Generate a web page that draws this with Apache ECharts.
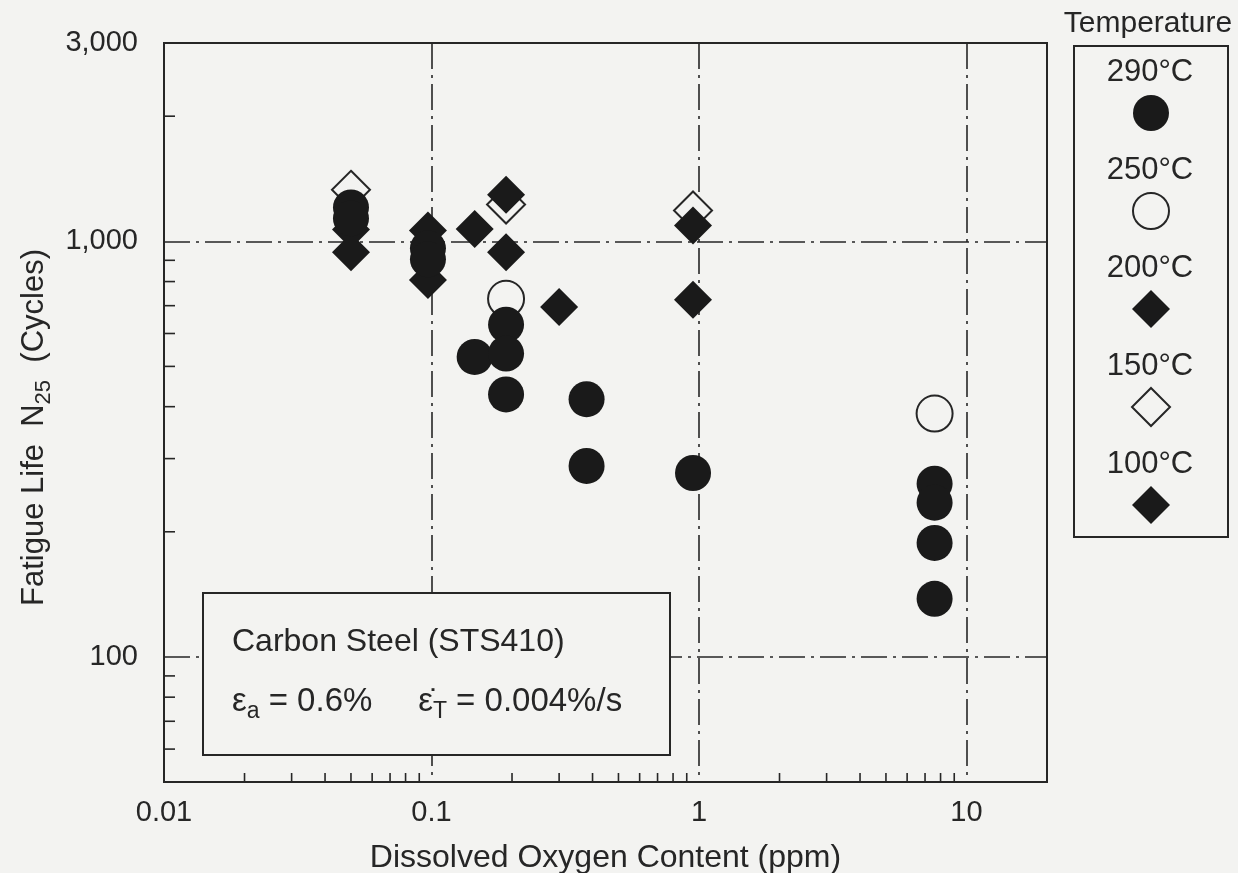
<!DOCTYPE html>
<html><head><meta charset="utf-8">
<script src="https://cdn.jsdelivr.net/npm/echarts@6/dist/echarts.min.js"></script>
<style>html,body{margin:0;padding:0;background:#f3f3f1}#c{width:1238px;height:873px}</style>
</head><body><div id="c"></div>
<script>
// ---- data (dissolved oxygen ppm, fatigue life N25 cycles) ----
const temps = ['290°C', '250°C', '200°C', '150°C', '100°C'];
const s290 = [[0.05,1206],[0.05,1135],[0.097,962],[0.097,905],[0.145,527],[0.19,630],[0.19,537],[0.19,428],[0.38,417],[0.38,288],[0.95,277],[7.6,261],[7.6,235],[7.6,188],[7.6,138]];
const s250 = [[0.19,727],[7.6,385]];
const s200 = [[0.05,941],[0.097,807],[0.19,941],[0.3,695],[0.95,723]];
const s150 = [[0.05,1330],[0.19,1226],[0.95,1186]];
const s100 = [[0.05,1068],[0.097,1062],[0.145,1070],[0.19,1295],[0.95,1092]];
const xLabels = {0.01:'0.01', 0.1:'0.1', 1:'1', 10:'10'};
const yLabels = {100:'100', 1000:'1,000', 3000:'3,000'};
const xMinor = [0.02,0.03,0.04,0.05,0.06,0.07,0.08,0.09,0.2,0.3,0.4,0.5,0.6,0.7,0.8,0.9,2,3,4,5,6,7,8,9];
const yMinor = [60,70,80,90,200,300,400,500,600,700,800,900,2000];
const xRange = [0.01, 20];
const yRange = [50, 3000];
const xTitle = 'Dissolved Oxygen Content (ppm)';
const noteLine1 = 'Carbon Steel (STS410)';
const legendTitle = 'Temperature';

const INK = '#262626';
const FILL = '#1a1a1a';
const BG = '#f3f3f1';
const FONT = '"Liberation Sans", Arial, Helvetica, sans-serif';

function near(v, table) {
  for (const k in table) { if (Math.abs(Math.log10(v) - Math.log10(+k)) < 1e-6) return table[k]; }
  return '';
}

const dashDot = [26, 6, 3, 6];

const chart = echarts.init(document.getElementById('c'), null, {renderer: 'canvas'});

function tickSeries(data, vertical) {
  return {
    type: 'custom', silent: true, clip: false, z: 3,
    data: data,
    renderItem: function (params, api) {
      const p = api.coord([api.value(0), api.value(1)]);
      const shape = vertical
        ? {x1: p[0], y1: p[1], x2: p[0], y2: p[1] - 9}
        : {x1: p[0], y1: p[1], x2: p[0] + 11, y2: p[1]};
      return {type: 'line', shape: shape, style: {stroke: INK, lineWidth: 1.6}};
    }
  };
}

const markerFilled = {color: FILL, opacity: 1};
const markerOpen = {color: BG, borderColor: INK, borderWidth: 2, opacity: 1};

// legend graphic built from temps
const legendSyms = [
  {k: 'circle', filled: true}, {k: 'circle', filled: false},
  {k: 'diamond', filled: true}, {k: 'diamond', filled: false}, {k: 'diamond', filled: true}
];
const legendEls = [
  {type: 'text', x: 1148, y: 24, style: {text: legendTitle, font: '30px ' + FONT, fill: INK, align: 'center', verticalAlign: 'middle'}},
  {type: 'rect', shape: {x: 1074, y: 46, width: 154, height: 491}, style: {fill: BG, stroke: INK, lineWidth: 2}, z: 10}
];
temps.forEach(function (t, i) {
  const ty = 72 + i * 98;
  const sy = 113 + i * 98;
  legendEls.push({type: 'text', x: 1150, y: ty, z: 11, style: {text: t, font: '31px ' + FONT, fill: INK, align: 'center', verticalAlign: 'middle'}});
  const s = legendSyms[i];
  const style = s.filled ? {fill: FILL} : {fill: BG, stroke: INK, lineWidth: 2};
  if (s.k === 'circle') {
    legendEls.push({type: 'circle', z: 11, shape: {cx: 1151, cy: sy, r: 18}, style: style});
  } else {
    legendEls.push({type: 'polygon', z: 11, shape: {points: [[1151, sy - 19], [1170, sy], [1151, sy + 19], [1132, sy]]}, style: style});
  }
});

const option = {
  backgroundColor: BG,
  animation: false,
  textStyle: {fontFamily: FONT, color: INK},
  grid: {left: 164, right: 191, top: 43, bottom: 91, outerBoundsMode: 'none', containLabel: false,
    show: true, borderColor: INK, borderWidth: 2, backgroundColor: 'transparent'},
  xAxis: {
    type: 'log', logBase: 10, min: xRange[0], max: xRange[1],
    name: xTitle, nameLocation: 'middle', nameGap: 60,
    nameTextStyle: {fontSize: 32, color: INK, fontFamily: FONT},
    axisLine: {show: false}, axisTick: {show: false},
    axisLabel: {fontSize: 29, color: INK, margin: 16, showMaxLabel: true, showMinLabel: true,
      formatter: function (v) { return near(v, xLabels); }},
    splitLine: {show: true, showMinLine: false, showMaxLine: false, lineStyle: {color: INK, width: 1.6, type: dashDot}}
  },
  yAxis: {
    type: 'log', logBase: 10, min: yRange[0], max: yRange[1],
    name: '{a|Fatigue Life  N}{s|25}{a|  (Cycles)}', nameLocation: 'middle', nameRotate: 90, nameGap: 106,
    nameTextStyle: {color: INK, fontFamily: FONT, padding: [0, 30, 0, 0],
      rich: {a: {fontSize: 31, lineHeight: 40, color: INK, fontFamily: FONT},
             s: {fontSize: 22, lineHeight: 22, verticalAlign: 'bottom', color: INK, fontFamily: FONT}}},
    axisLine: {show: false}, axisTick: {show: false},
    axisLabel: {fontSize: 29, color: INK, margin: 26, showMaxLabel: true, showMinLabel: true,
      formatter: function (v) { return near(v, yLabels); }},
    splitLine: {show: true, showMinLine: false, showMaxLine: false, lineStyle: {color: INK, width: 1.6, type: dashDot}}
  },
  series: [
    tickSeries(xMinor.map(function (v) { return [v, yRange[0]]; }), true),
    tickSeries(yMinor.map(function (v) { return [xRange[0], v]; }), false),
    {name: temps[3], type: 'scatter', z: 4, data: s150, symbol: 'diamond', symbolSize: 38, itemStyle: markerOpen},
    {name: temps[1], type: 'scatter', z: 4, data: s250, symbol: 'circle', symbolSize: 36, itemStyle: markerOpen},
    {name: temps[4], type: 'scatter', z: 5, data: s100, symbol: 'diamond', symbolSize: 38, itemStyle: markerFilled},
    {name: temps[2], type: 'scatter', z: 5, data: s200, symbol: 'diamond', symbolSize: 38, itemStyle: markerFilled},
    {name: temps[0], type: 'scatter', z: 5, data: s290, symbol: 'circle', symbolSize: 36, itemStyle: markerFilled}
  ],
  graphic: [
    {type: 'rect', z: 20, shape: {x: 203, y: 593, width: 467, height: 162}, style: {fill: BG, stroke: INK, lineWidth: 2}},
    {type: 'text', z: 21, x: 232, y: 642, style: {text: noteLine1, font: '32px ' + FONT, fill: INK, verticalAlign: 'middle'}},
    {type: 'text', z: 21, x: 232, y: 702, style: {
      text: '{e|ε}{s|a}{e| = 0.6%     ε\u0307}{s|T}{e| = 0.004%/s}', verticalAlign: 'middle',
      rich: {e: {fontSize: 33, lineHeight: 42, fill: INK, fontFamily: FONT},
             s: {fontSize: 23, lineHeight: 23, verticalAlign: 'bottom', fill: INK, fontFamily: FONT}}}}
  ].concat(legendEls)
};
chart.setOption(option);
</script></body></html>
